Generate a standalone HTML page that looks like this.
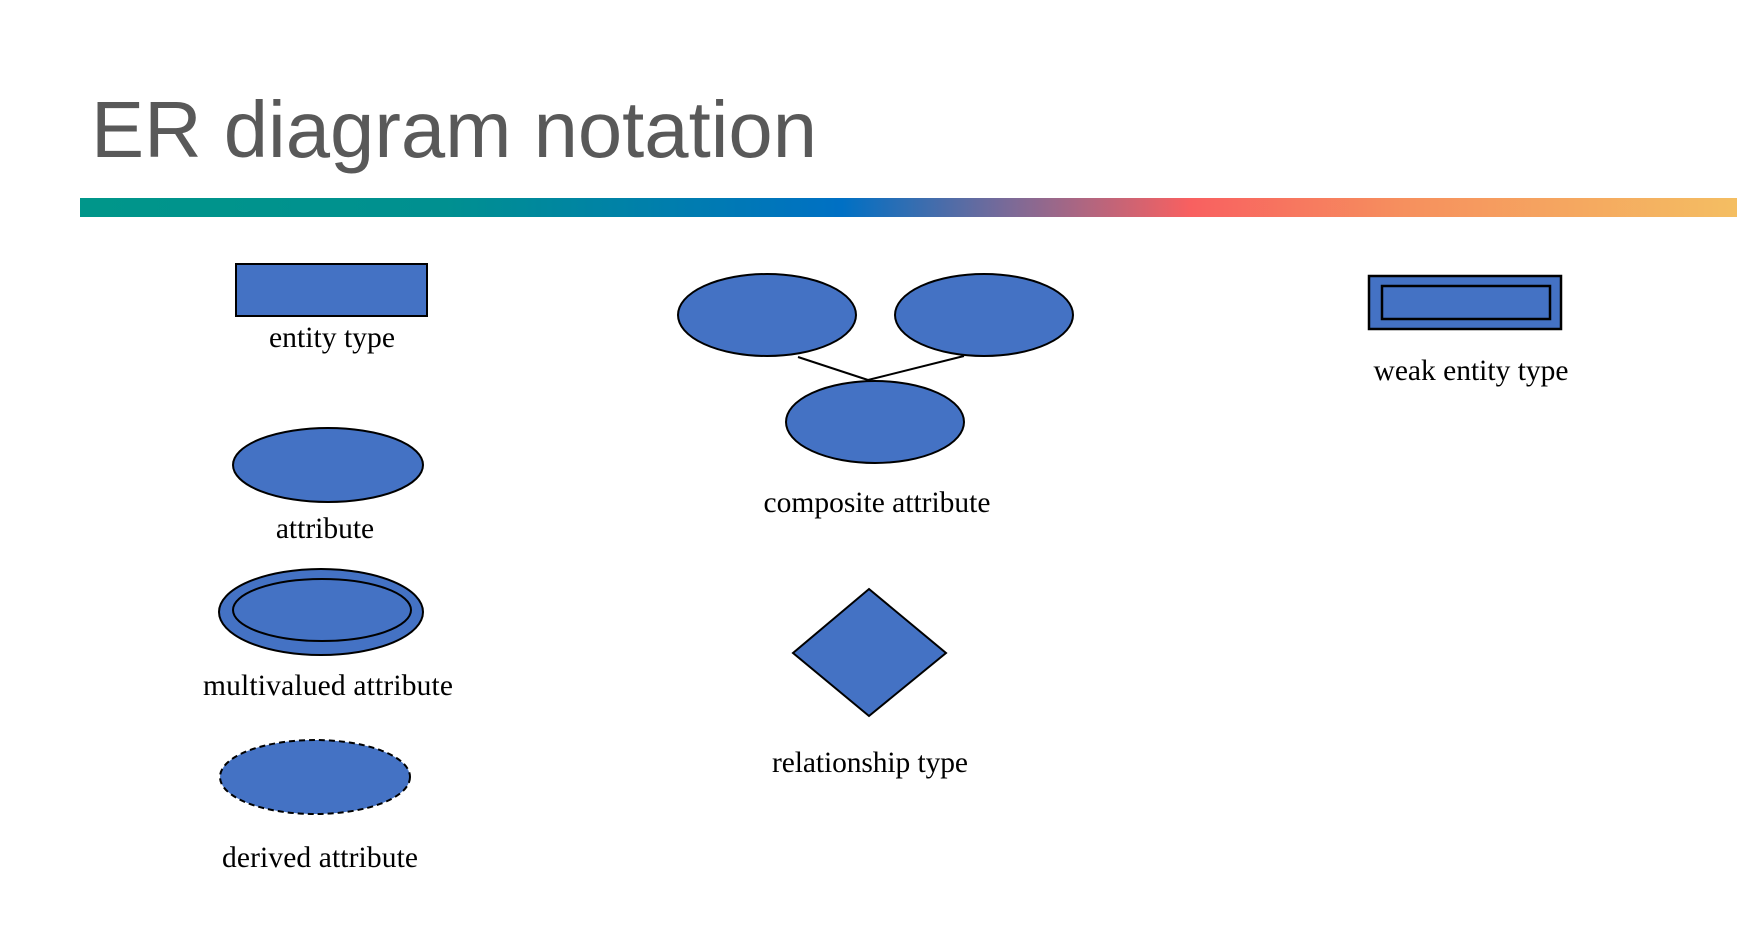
<!DOCTYPE html>
<html><head><meta charset="utf-8"><style>
html,body{margin:0;padding:0;background:#fff;width:1757px;height:944px;overflow:hidden}
svg{display:block}
</style></head><body>
<svg width="1757" height="944" viewBox="0 0 1757 944" xmlns="http://www.w3.org/2000/svg">
<defs>
<linearGradient id="g" x1="0" x2="1" y1="0" y2="0">
<stop offset="0" stop-color="#00968A"/>
<stop offset="0.22" stop-color="#009090"/>
<stop offset="0.46" stop-color="#0070C4"/>
<stop offset="0.56" stop-color="#7A6A98"/>
<stop offset="0.67" stop-color="#F86060"/>
<stop offset="0.8" stop-color="#F6905E"/>
<stop offset="1" stop-color="#F4BE62"/>
</linearGradient>
</defs>
<text x="91" y="157" font-family="Liberation Sans, sans-serif" font-size="80" fill="#595959" textLength="726" lengthAdjust="spacingAndGlyphs">ER diagram notation</text>
<rect x="80" y="198" width="1657" height="19" fill="url(#g)"/>
<g fill="#4472C4" stroke="#000" stroke-width="2">
<rect x="236" y="264" width="191" height="52"/>
<ellipse cx="328" cy="465" rx="95" ry="37"/>
<ellipse cx="321" cy="612" rx="102" ry="43"/>
<ellipse cx="322" cy="610" rx="89" ry="31"/>
<ellipse cx="315" cy="777" rx="95" ry="37" stroke-dasharray="6,4"/>
<ellipse cx="767" cy="315" rx="89" ry="41"/>
<ellipse cx="984" cy="315" rx="89" ry="41"/>
<ellipse cx="875" cy="422" rx="89" ry="41"/>
<polygon points="869,589 946,653 869,716 793,653"/>
<rect x="1369" y="276" width="192" height="53" stroke-width="2.5"/>
<rect x="1382" y="286" width="168" height="33" stroke-width="2.5"/>
</g>
<g stroke="#000" stroke-width="2">
<line x1="798" y1="357" x2="868" y2="380"/>
<line x1="964" y1="356" x2="868" y2="380"/>
</g>
<g font-family="Liberation Serif, serif" font-size="29.5" fill="#000" text-anchor="middle">
<text x="332" y="347" textLength="126" lengthAdjust="spacingAndGlyphs">entity type</text>
<text x="325" y="538">attribute</text>
<text x="328" y="695" textLength="250" lengthAdjust="spacing">multivalued attribute</text>
<text x="320" y="867" textLength="196" lengthAdjust="spacing">derived attribute</text>
<text x="877" y="512">composite attribute</text>
<text x="870" y="772" textLength="196" lengthAdjust="spacing">relationship type</text>
<text x="1471" y="380">weak entity type</text>
</g>
</svg>
</body></html>
